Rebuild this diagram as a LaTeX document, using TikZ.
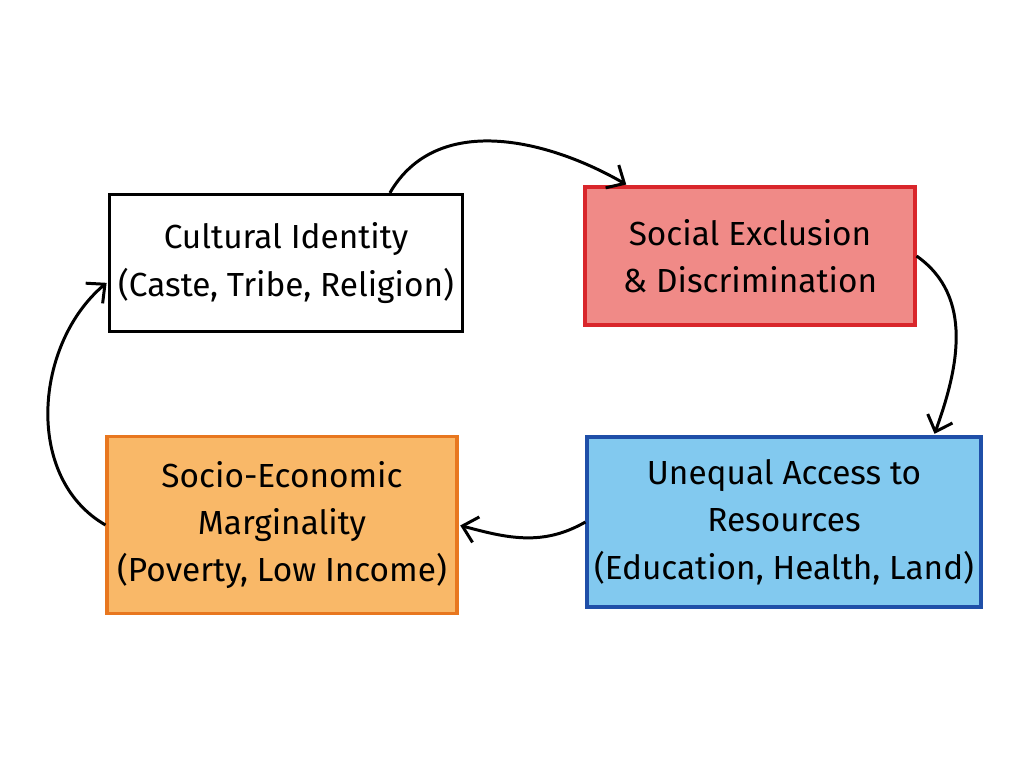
\documentclass[tikz,border=0pt]{standalone}
\usepackage{fontspec}
\setmainfont{Fira Sans}
\usetikzlibrary{arrows.meta}

\definecolor{exclfill}{HTML}{F08A87}
\definecolor{excldraw}{HTML}{D9262B}
\definecolor{accfill}{HTML}{82C9EF}
\definecolor{accdraw}{HTML}{1F4FA8}
\definecolor{margfill}{HTML}{F9B868}
\definecolor{margdraw}{HTML}{E8771F}

\begin{document}
\begin{tikzpicture}[x=0.02cm,y=-0.02cm,
	stage/.style={draw,line width=1.8pt,align=center,font=\fontsize{19}{27}\selectfont,inner sep=4pt},
	cycle/.style={line width=1.7pt,-{Straight Barb[length=8pt,width=15pt,line width=1.7pt]},shorten >=1pt}]
	% page
	\useasboundingbox (0,0) rectangle (1024,768);

	% stages
	\node[stage,fill=white,minimum width=7.06cm,minimum height=2.74cm] (ident) at (286,263)
		{Cultural Identity\\(Caste, Tribe, Religion)};
	\node[stage,draw=excldraw,fill=exclfill,minimum width=6.6cm,minimum height=2.76cm] (excl) at (750,256)
		{Social Exclusion\\\& Discrimination};
	\node[stage,draw=accdraw,fill=accfill,minimum width=7.76cm,minimum height=3.4cm] (access) at (784,522)
		{Unequal Access to\\Resources\\(Education, Health, Land)};
	\node[stage,draw=margdraw,fill=margfill,minimum width=7.0cm,minimum height=3.54cm] (marg) at (282,525)
		{Socio-Economic\\Marginality\\(Poverty, Low Income)};

	% cycle arrows
	\draw[cycle] (ident.34) to[out=60,in=150] (excl.150);
	\draw[cycle] (excl.east) to[out=-35,in=70] (access.30);
	\draw[cycle] (access.west) to[out=-150,in=-15] (marg.east);
	\draw[cycle] (marg.west) to[out=150,in=220] (ident.186);

\end{tikzpicture}
\end{document}
